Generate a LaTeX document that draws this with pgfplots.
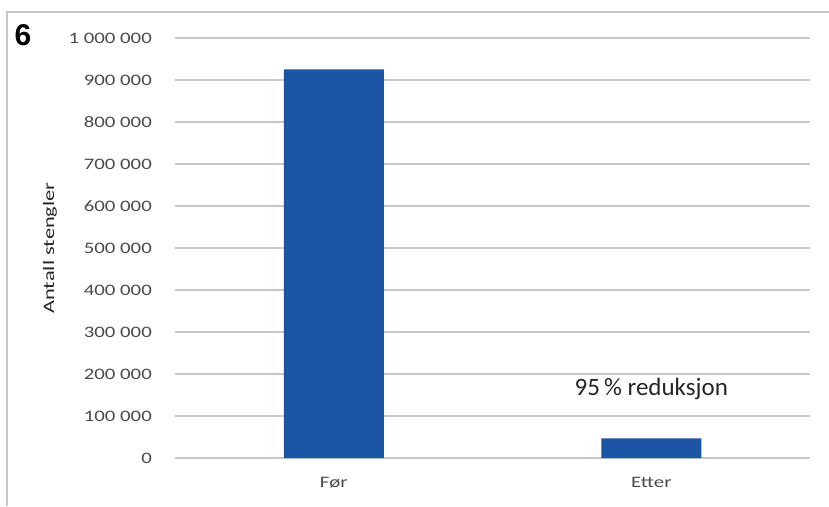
\documentclass[border=0pt]{standalone}
\usepackage{fontspec}
\setmainfont{Carlito}
\newfontfamily\tickfont[FakeStretch=1.3]{Carlito}
\newfontfamily\labfont[FakeStretch=1.4]{Carlito}
\newfontfamily\numfont{Liberation Sans}
\usepackage{pgfplots}
\pgfplotsset{compat=1.18}
\definecolor{barblue}{HTML}{1C55A6}
\definecolor{gridgray}{HTML}{C8C8C8}
\definecolor{ticktext}{HTML}{4A4A4A}
\begin{document}
\begin{tikzpicture}[x=1pt,y=1pt]
\useasboundingbox (0,0) rectangle (829,506);
\draw[gridgray, line width=2pt] (6.5,0) -- (6.5,494) -- (829,494);
\node[font={\numfont\bfseries\fontsize{30}{32}\selectfont}, anchor=center] at (23,471) {6};
\begin{axis}[
  at={(175pt,48pt)}, anchor=south west,
  scale only axis, width=635pt, height=420pt,
  xmin=-0.5, xmax=1.5, ymin=0, ymax=1000000,
  enlargelimits=false, clip=false,
  axis line style={draw=none},
  major tick length=0pt,
  ymajorgrids, grid style={gridgray, line width=1.5pt},
  xtick={0,1}, xticklabels={Før,Etter},
  ytick={0,100000,200000,300000,400000,500000,600000,700000,800000,900000,1000000},
  yticklabels={0,100 000,200 000,300 000,400 000,500 000,600 000,700 000,800 000,900 000,1 000 000},
  yticklabel style={font={\tickfont\fontsize{16}{18}\selectfont}, text=ticktext, anchor=east, inner sep=0pt, xshift=-23pt},
  xticklabel style={font={\tickfont\fontsize{16}{18}\selectfont}, text=ticktext, anchor=north, inner sep=0pt, yshift=-19pt},
  ylabel={Antall stengler},
  ylabel style={font={\labfont\fontsize{16}{18}\selectfont}, text=black!85, at={(axis description cs:-0.197,0.5)}, anchor=center, rotate=0},
  scaled y ticks=false,
]
\addplot[ybar, bar width=100pt, fill=barblue, draw=none] coordinates {(0,925000) (1,47000)};
\node[font={\fontsize{25}{28}\selectfont}, text=black!85] at (axis cs:1,164000) {95\,\% reduksjon};
\end{axis}
\end{tikzpicture}
\end{document}
